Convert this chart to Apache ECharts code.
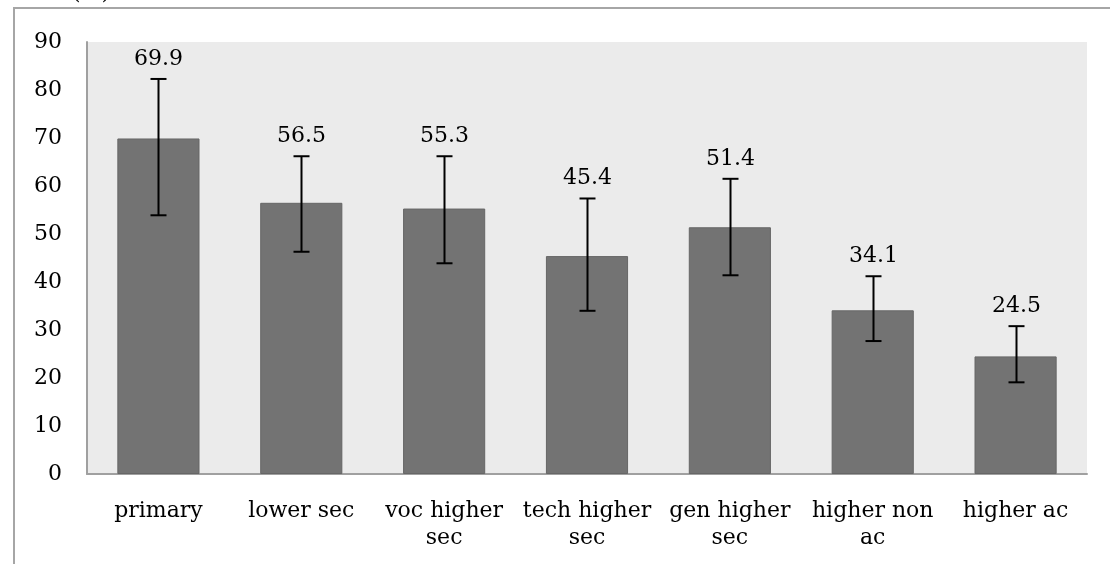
<!DOCTYPE html>
<html>
<head>
<meta charset="utf-8">
<script src="https://cdn.jsdelivr.net/npm/echarts@6/dist/echarts.min.js"></script>
<style>
html,body{margin:0;padding:0;background:#fff;}
#chart{width:1110px;height:564px;}
</style>
</head>
<body>
<div id="chart"></div>
<script>
const categories = ['primary', 'lower sec', 'voc higher\nsec', 'tech higher\nsec', 'gen higher\nsec', 'higher non\nac', 'higher ac'];
const values = [69.9, 56.5, 55.3, 45.4, 51.4, 34.1, 24.5];
const errHigh = [82.3, 66.2, 66.2, 57.4, 61.5, 41.2, 30.8];
const errLow = [53.9, 46.3, 43.9, 34.0, 41.4, 27.7, 19.1];
const yTicks = { min: 0, max: 90, interval: 10 };
const unitTitle = '(%)';

const FONT = 'DejaVu Serif';
const chart = echarts.init(document.getElementById('chart'), null, { renderer: 'canvas' });

const errData = values.map((v, i) => [i, errLow[i], errHigh[i], v]);

chart.setOption({
  animation: false,
  backgroundColor: '#ffffff',
  graphic: [
    { type: 'rect', shape: { x: 14, y: 8, width: 1200, height: 700 }, style: { fill: 'none', stroke: '#a6a6a6', lineWidth: 2 }, z: -1 },
    { type: 'text', left: 72, top: -18, style: { text: unitTitle, font: '22px "' + FONT + '"', fill: '#000' } }
  ],
  grid: { left: 87, right: 23, top: 42, bottom: 90, show: true, backgroundColor: '#ebebeb', borderWidth: 0 },
  xAxis: {
    type: 'category',
    data: categories,
    axisLine: { show: true, lineStyle: { color: '#a0a0a0', width: 2 } },
    axisTick: { show: false },
    axisLabel: { interval: 0, margin: 24, color: '#000', fontFamily: FONT, fontSize: 22, lineHeight: 27 },
    splitLine: { show: false }
  },
  yAxis: {
    type: 'value',
    min: yTicks.min, max: yTicks.max, interval: yTicks.interval,
    axisLine: { show: true, lineStyle: { color: '#a0a0a0', width: 2 } },
    axisTick: { show: false },
    axisLabel: { margin: 25, color: '#000', fontFamily: FONT, fontSize: 22 },
    splitLine: { show: false }
  },
  series: [
    {
      type: 'bar',
      data: values,
      barWidth: '57.5%',
      itemStyle: { color: '#737373', borderColor: '#666666', borderWidth: 1 },
      z: 2
    },
    {
      type: 'custom',
      data: errData,
      z: 5,
      renderItem: function (params, api) {
        const i = api.value(0);
        const lo = api.coord([i, api.value(1)]);
        const hi = api.coord([i, api.value(2)]);
        const x = Math.round(hi[0]) + 0.5;
        const cap = 8;
        const st = { stroke: '#000', lineWidth: 2 };
        return {
          type: 'group',
          children: [
            { type: 'line', shape: { x1: x, y1: hi[1], x2: x, y2: lo[1] }, style: st },
            { type: 'line', shape: { x1: x - cap, y1: hi[1], x2: x + cap, y2: hi[1] }, style: st },
            { type: 'line', shape: { x1: x - cap, y1: lo[1], x2: x + cap, y2: lo[1] }, style: st },
            { type: 'text', x: x, y: hi[1] - 20, style: { text: api.value(3).toFixed(1), font: '22px "' + FONT + '"', fill: '#000', align: 'center', verticalAlign: 'middle' } }
          ]
        };
      }
    }
  ]
});
</script>
</body>
</html>
